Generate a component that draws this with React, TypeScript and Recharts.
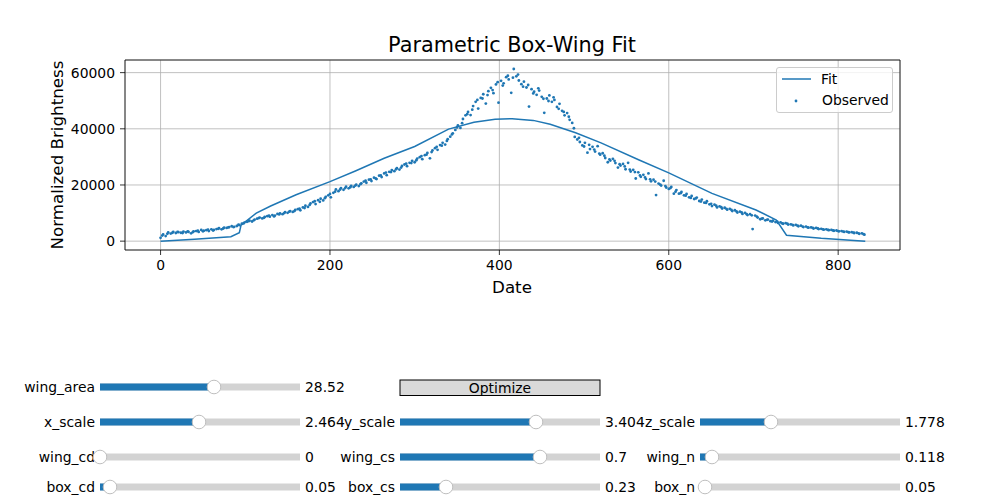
import { CartesianGrid, ComposedChart, Legend, Line, ReferenceArea, Scatter, XAxis, YAxis } from "recharts"

const FONT = "DejaVu Sans"
const BLUE = "#1f77b4"

// observed points (date, brightness)
const obsDates = [
  0, 3, 6, 9, 12, 15, 18, 21, 24, 27, 30, 33, 36, 39, 42, 45, 48, 51, 54, 57,
  60, 63, 66, 69, 72, 75, 78, 81, 84, 87, 90, 93, 96, 99, 102, 105, 108, 111, 114, 117,
  120, 123, 126, 129, 132, 135, 138, 141, 144, 147, 150, 153, 156, 159, 162, 165, 168, 171, 174, 177,
  180, 183, 186, 189, 192, 195, 198, 201, 204, 207, 210, 213, 216, 219, 222, 225, 228, 231, 234, 237,
  240, 243, 246, 249, 252, 255, 258, 261, 264, 267, 270, 273, 276, 279, 282, 285, 288, 291, 294, 297,
  300, 303, 306, 309, 312, 315, 318, 321, 324, 327, 330, 333, 336, 339, 342, 345, 348, 351, 354, 357,
  360, 363, 366, 369, 372, 375, 378, 381, 384, 387, 390, 393, 396, 399, 402, 405, 408, 411, 414, 417,
  420, 423, 426, 429, 432, 435, 438, 441, 444, 447, 450, 453, 456, 459, 462, 465, 468, 471, 474, 477,
  480, 483, 486, 489, 492, 495, 498, 501, 504, 507, 510, 513, 516, 519, 522, 525, 528, 531, 534, 537,
  540, 543, 546, 549, 552, 555, 558, 561, 564, 567, 570, 573, 576, 579, 582, 585, 588, 591, 594, 597,
  600, 603, 606, 609, 612, 615, 618, 621, 624, 627, 630, 633, 636, 639, 642, 645, 648, 651, 654, 657,
  660, 663, 666, 669, 672, 675, 678, 681, 684, 687, 690, 693, 696, 699, 702, 705, 708, 711, 714, 717,
  720, 723, 726, 729, 732, 735, 738, 741, 744, 747, 750, 753, 756, 759, 762, 765, 768, 771, 774, 777,
  780, 783, 786, 789, 792, 795, 798, 801, 804, 807, 810, 813, 816, 819, 822, 825, 828, 831,
  2, 8, 14, 20, 26, 32, 38, 44, 50, 56, 62, 68, 74, 80, 86, 92, 98, 104, 110, 116,
  122, 128, 134, 140, 146, 152, 158, 164, 170, 176, 182, 188, 194, 200, 206, 212, 218, 224, 230, 236,
  242, 248, 254, 260, 266, 272, 278, 284, 290, 296, 302, 308, 314, 320, 326, 332, 338, 344, 350, 356,
  362, 368, 374, 380, 386, 392, 398, 404, 410, 416, 422, 428, 434, 440, 446, 452, 458, 464, 470, 476,
  482, 488, 494, 500, 506, 512, 518, 524, 530, 536, 542, 548, 554, 560, 566, 572, 578, 584, 590, 596,
  602, 608, 614, 620, 626, 632, 638, 644, 650, 656, 662, 668, 674, 680, 686, 692, 698, 704, 710, 716,
  722, 728, 734, 740, 746, 752, 758, 764, 770, 776, 782, 788, 794, 800, 806, 812, 818, 824, 830,
]
const obsBrightness = [
  1200, 2400, 1800, 3100, 2700, 3300, 2900, 3200, 3000, 3400, 3100, 3300, 2800, 3500, 3600, 3300, 4000, 3700, 3900, 3600,
  4200, 4000, 4300, 4600, 4200, 4800, 4700, 5000, 5300, 5100, 5400, 5700, 6200, 6600, 6900, 7300, 7000, 7700, 8000, 8400,
  8100, 8600, 8900, 8700, 9300, 9100, 9700, 9900, 9600, 10300, 10100, 10700, 10400, 11100, 11400, 11000, 12000, 12600, 12200, 13400,
  13900, 13200, 14600, 15100, 14500, 15800, 16300, 15600, 17200, 18400, 17800, 18900, 18300, 19400, 18800, 19700, 19300, 20100, 19600, 20600,
  21200, 20800, 21900, 21400, 22600, 22100, 23300, 22800, 24100, 23500, 24700, 25300, 24900, 26000, 25500, 26800, 27300, 26700, 27900, 28600,
  28100, 29400, 29900, 29200, 30600, 31400, 29500, 32300, 33100, 32500, 34200, 35000, 34400, 36300, 37200, 38400, 39600, 41200, 40300, 43500,
  44800, 46000, 44900, 48100, 49600, 47200, 51000, 52300, 49000, 53400, 54600, 52700, 55800, 49300, 57100, 56200, 58400, 57600, 52800, 61300,
  58700, 57200, 55900, 56800, 54700, 47900, 54100, 53200, 52100, 53600, 51400, 45700, 50800, 51900, 49600, 50300, 47800, 48900, 46400, 44800,
  45600, 43200, 42100, 37100, 36200, 35300, 34100, 35000, 31500, 32800, 33600, 31900, 33800, 30800, 31300, 29600, 28100, 28700, 29300, 27800,
  26200, 26900, 27500, 25600, 27900, 24800, 25400, 22300, 24500, 22900, 23600, 22100, 24100, 21300, 21900, 16400, 20500, 19800, 21500, 19100,
  18600, 19300, 16900, 18200, 16900, 17500, 16300, 16800, 15600, 16100, 15000, 15500, 14300, 14800, 13700, 14200, 13100, 12500, 13000, 12000,
  12400, 11600, 11900, 11200, 11500, 10700, 11000, 10200, 10500, 9700, 10100, 9300, 9600, 4300, 9100, 8400, 7800, 8100, 7400, 7700,
  7100, 7300, 6800, 6500, 6700, 6200, 6400, 5900, 6000, 5600, 5800, 5300, 5500, 5000, 5200, 4800, 4900, 4500, 4700, 4300,
  4400, 4100, 4200, 3900, 4000, 3700, 3800, 3500, 3600, 3300, 3400, 3100, 3200, 2900, 3000, 2600, 2800, 2300,
  2000, 2600, 3000, 3300, 2900, 3500, 3200, 3700, 3500, 4100, 3800, 4400, 4500, 4900, 5000, 5900, 6300, 7100, 7400, 8200,
  8300, 9100, 8800, 9500, 10000, 10500, 10700, 11600, 11800, 12900, 14200, 14000, 15300, 16800, 17600, 18400, 18900, 19200, 19800, 20300,
  21500, 22000, 22300, 23400, 24400, 24600, 25600, 26200, 27600, 27800, 28800, 30300, 30800, 31700, 33600, 34000, 35700, 38000, 40500, 42000,
  45200, 46800, 50300, 50800, 52000, 53800, 56600, 55400, 58900, 58200, 59300, 55000, 55600, 52600, 54400, 50700, 49900, 51200, 47100, 46000,
  44300, 40200, 36800, 33700, 34300, 32600, 31200, 30400, 29100, 28600, 27400, 26600, 25500, 24600, 23400, 22700, 22000, 21200, 20100, 19600,
  18900, 17600, 17100, 16200, 15400, 15200, 14100, 13600, 13300, 12600, 12100, 11500, 11100, 10600, 10200, 9600, 9200, 8700, 8000, 7600,
  7000, 6900, 6300, 6200, 5800, 5500, 5200, 4900, 4700, 4500, 4200, 4000, 3800, 3600, 3400, 3200, 3000, 2800, 2500,
]

// fitted curve
const fitDates = [0, 40, 83, 93, 95, 113, 130, 160, 200, 230, 264, 300, 340, 370, 395, 415, 440, 460, 490, 520, 565, 600, 651, 703, 727, 739, 780, 832]
const fitBrightness = [0, 700, 1600, 3000, 5700, 10000, 12500, 16500, 21200, 25000, 29500, 33700, 39900, 42300, 43400, 43600, 43000, 41600, 38600, 35000, 28900, 24300, 17000, 11100, 7500, 2100, 1000, 0]

const xTicks = [0, 200, 400, 600, 800]
const yTicks = [0, 20000, 40000, 60000]

// slider widgets below the plot
const sliderNames = ["wing_area", "x_scale", "y_scale", "z_scale", "wing_cd", "wing_cs", "wing_n", "box_cd", "box_cs", "box_n"]
const sliderValues = ["28.52", "2.464", "3.404", "1.778", "0", "0.7", "0.118", "0.05", "0.23", "0.05"]
const sliderFractions = [0.57, 0.495, 0.68, 0.355, 0, 0.7, 0.06, 0.05, 0.23, 0.025]
const sliderCols = [0, 0, 1, 2, 0, 1, 2, 0, 1, 2]
const sliderRows = [0, 1, 1, 1, 2, 2, 2, 3, 3, 3]

const observed = obsDates.map((x, i) => ({ x, y: obsBrightness[i] }))
const fit = fitDates.map((x, i) => ({ x, y: fitBrightness[i] }))

const colX = [100, 400, 700]
const rowY = [387, 422, 457, 487]

function LegendBox() {
  return (
    <div
      style={{
        width: 117,
        height: 46,
        boxSizing: "border-box",
        background: "rgba(255,255,255,0.8)",
        border: "1px solid #cccccc",
        borderRadius: 3,
      }}
    >
      <svg width={115} height={44} style={{ display: "block" }} fontFamily={FONT} fontSize={13.9}>
        <line x1={5} x2={34} y1={11} y2={11} stroke={BLUE} strokeWidth={1.5} />
        <text x={44} y={11} dominantBaseline="central">Fit</text>
        <circle cx={19} cy={33} r={1.4} fill={BLUE} />
        <text x={45} y={32} dominantBaseline="central">Observed</text>
      </svg>
    </div>
  )
}

function Sliders() {
  return (
    <svg
      width={1000}
      height={500}
      style={{ position: "absolute", left: 0, top: 0, pointerEvents: "none" }}
      fontFamily={FONT}
      fontSize={13.9}
    >
      <text x={512} y={45} textAnchor="middle" dominantBaseline="central" fontSize={20.8}>
        Parametric Box-Wing Fit
      </text>
      <text x={512} y={287} textAnchor="middle" dominantBaseline="central" fontSize={16.7}>
        Date
      </text>
      <text
        x={57}
        y={155}
        textAnchor="middle"
        dominantBaseline="central"
        fontSize={16.7}
        transform="rotate(-90 57 155)"
      >
        Normalized Brightness
      </text>

      <rect x={400} y={380} width={200} height={15.5} fill="#d9d9d9" stroke="#000" strokeWidth={1} />
      <text x={500} y={387.5} textAnchor="middle" dominantBaseline="central">Optimize</text>

      {sliderNames.map((name, i) => {
        const x0 = colX[sliderCols[i]]
        const y = rowY[sliderRows[i]]
        const kx = x0 + sliderFractions[i] * 200
        return (
          <g key={name}>
            <text x={x0 - 5} y={y} textAnchor="end" dominantBaseline="central">{name}</text>
            <rect x={x0} y={y - 3.5} width={200} height={7} fill="#d3d3d3" />
            <rect x={x0} y={y - 3.5} width={kx - x0} height={7} fill={BLUE} />
            <circle cx={kx} cy={y} r={6.8} fill="#fff" stroke="#bfbfbf" strokeWidth={1} />
            <text x={x0 + 205} y={y} dominantBaseline="central">{sliderValues[i]}</text>
          </g>
        )
      })}
    </svg>
  )
}

export default function App() {
  return (
    <div style={{ position: "absolute", left: 0, top: 0, width: 1000, height: 500, background: "#fff" }}>
      <ComposedChart width={1000} height={500} margin={{ top: 60, right: 100, bottom: 220, left: 65 }}>
        <CartesianGrid stroke="#b0b0b0" strokeWidth={0.8} />
        <XAxis
          type="number"
          dataKey="x"
          domain={[-42, 873]}
          ticks={xTicks}
          allowDataOverflow
          height={30}
          axisLine={false}
          tickSize={5}
          tickMargin={5}
          tickLine={{ stroke: "#000", strokeWidth: 0.8 }}
          tick={{ fill: "#000", fontSize: 13.9, fontFamily: FONT }}
        />
        <YAxis
          type="number"
          dataKey="y"
          domain={[-3150, 64500]}
          ticks={yTicks}
          allowDataOverflow
          width={60}
          axisLine={false}
          tickSize={5}
          tickMargin={5}
          tickLine={{ stroke: "#000", strokeWidth: 0.8 }}
          tick={{ fill: "#000", fontSize: 13.9, fontFamily: FONT }}
        />
        <Line
          data={fit}
          dataKey="y"
          type="linear"
          stroke={BLUE}
          strokeWidth={1.5}
          dot={false}
          activeDot={false}
          isAnimationActive={false}
        />
        <Scatter
          data={observed}
          dataKey="y"
          fill={BLUE}
          isAnimationActive={false}
          shape={(p: any) => <circle cx={p.cx} cy={p.cy} r={1.4} fill={BLUE} />}
        />
        <ReferenceArea x1={-42} x2={873} y1={-3150} y2={64500} fill="none" stroke="#000" strokeWidth={0.8} />
        <Legend
          layout="vertical"
          align="center"
          verticalAlign="middle"
          wrapperStyle={{ position: "absolute", left: 776, top: 67, width: 117, height: 46 }}
          content={() => <LegendBox />}
        />
      </ComposedChart>
      <Sliders />
    </div>
  )
}
